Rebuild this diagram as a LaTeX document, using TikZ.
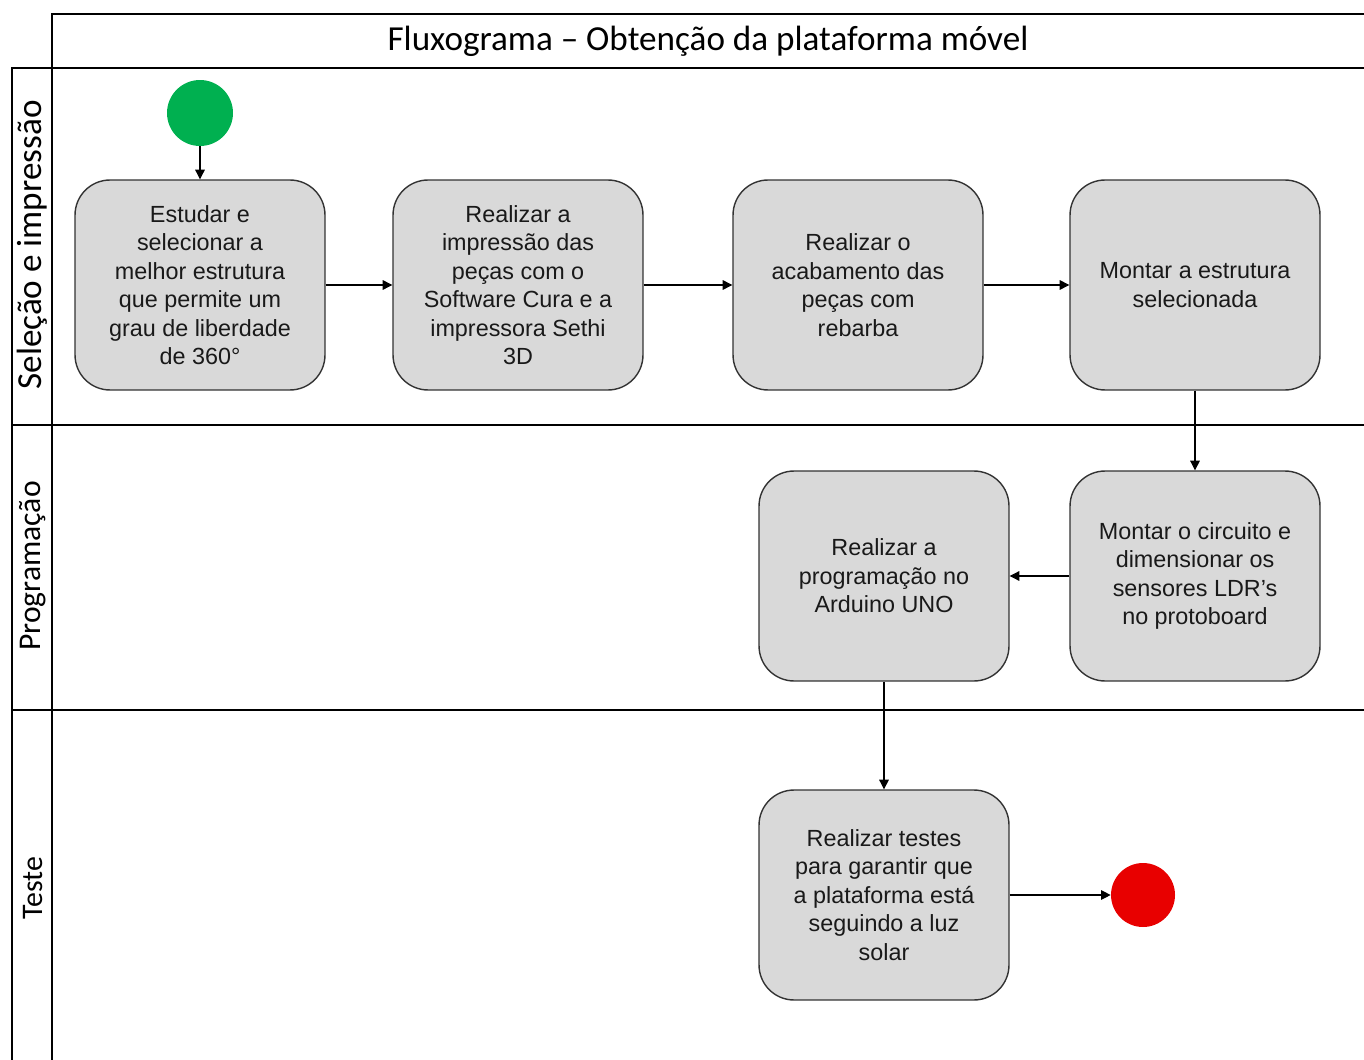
\documentclass[tikz,border=0pt]{standalone}
\usepackage{fontspec}
\setmainfont{Liberation Sans}
\newfontfamily\carlito{Carlito}
\usepackage{xcolor}
\usepackage{tikz}
\usetikzlibrary{arrows.meta,positioning}
\definecolor{boxgray}{HTML}{D9D9D9}
\definecolor{startgreen}{HTML}{00B050}
\definecolor{endred}{HTML}{E80000}

\begin{document}
\begin{tikzpicture}[x=0.02cm,y=-0.02cm,>={Triangle[length=5.5pt,width=5.5pt]},
  task/.style={draw=black!80,line width=0.8pt,rounded corners=0.7cm,fill=boxgray,
    minimum width=5cm,minimum height=4.2cm,align=center,text=black!90,
    font=\fontsize{13.3}{16.2}\selectfont},
  lane/.style={line width=1.6pt},
  frame/.style={line width=0.9pt},
  lanelabel/.style={rotate=90,font=\carlito},
  flow/.style={->,line width=0.6pt}]
\useasboundingbox (0,0) rectangle (1364,1060);
% pool and lanes
\draw[frame] (52,1060) -- (52,14) -- (1364,14);
\draw[frame] (12,1060) -- (12,68) -- (1364,68);
\draw[lane] (12,425) -- (1364,425);
\draw[lane] (12,710) -- (1364,710);
\node[font=\carlito\fontsize{20}{24}\selectfont] (title) at (708,41) {Fluxograma – Obtenção da plataforma móvel};
\node[lanelabel,font=\carlito\fontsize{20}{24}\selectfont] (selecao) at (32,245) {Seleção e impressão};
\node[lanelabel,font=\carlito\fontsize{18}{22}\selectfont] (programacao) at (33,566) {Programação};
\node[lanelabel,font=\carlito\fontsize{17}{20}\selectfont] (teste) at (33,888) {Teste};
% activities
\node[circle,fill=startgreen,minimum size=1.32cm,inner sep=0pt] (start) at (200,113) {};
\node[task] (estudar) at (200,285) {Estudar e\\selecionar a\\melhor estrutura\\que permite um\\grau de liberdade\\de 360°};
\node[task] (imprimir) at (518,285) {Realizar a\\impressão das\\peças com o\\Software Cura e a\\impressora Sethi\\3D};
\node[task] (acabamento) at (858,285) {Realizar o\\acabamento das\\peças com\\rebarba};
\node[task] (montar) at (1195,285) {Montar a estrutura\\selecionada};
\node[task] (circuito) at (1195,576) {Montar o circuito e\\dimensionar os\\sensores LDR’s\\no protoboard};
\node[task] (arduino) at (884,576) {Realizar a\\programação no\\Arduino UNO};
\node[task] (testes) at (884,895) {Realizar testes\\para garantir que\\a plataforma está\\seguindo a luz\\solar};
\node[circle,fill=endred,minimum size=1.28cm,inner sep=0pt] (fim) at (1143,895) {};
% flow
\draw[flow] (start) -- (estudar);
\draw[flow] (estudar) -- (imprimir);
\draw[flow] (imprimir) -- (acabamento);
\draw[flow] (acabamento) -- (montar);
\draw[flow] (montar) -- (circuito);
\draw[flow] (circuito) -- (arduino);
\draw[flow] (arduino) -- (testes);
\draw[flow] (testes) -- (fim);
\end{tikzpicture}
\end{document}
